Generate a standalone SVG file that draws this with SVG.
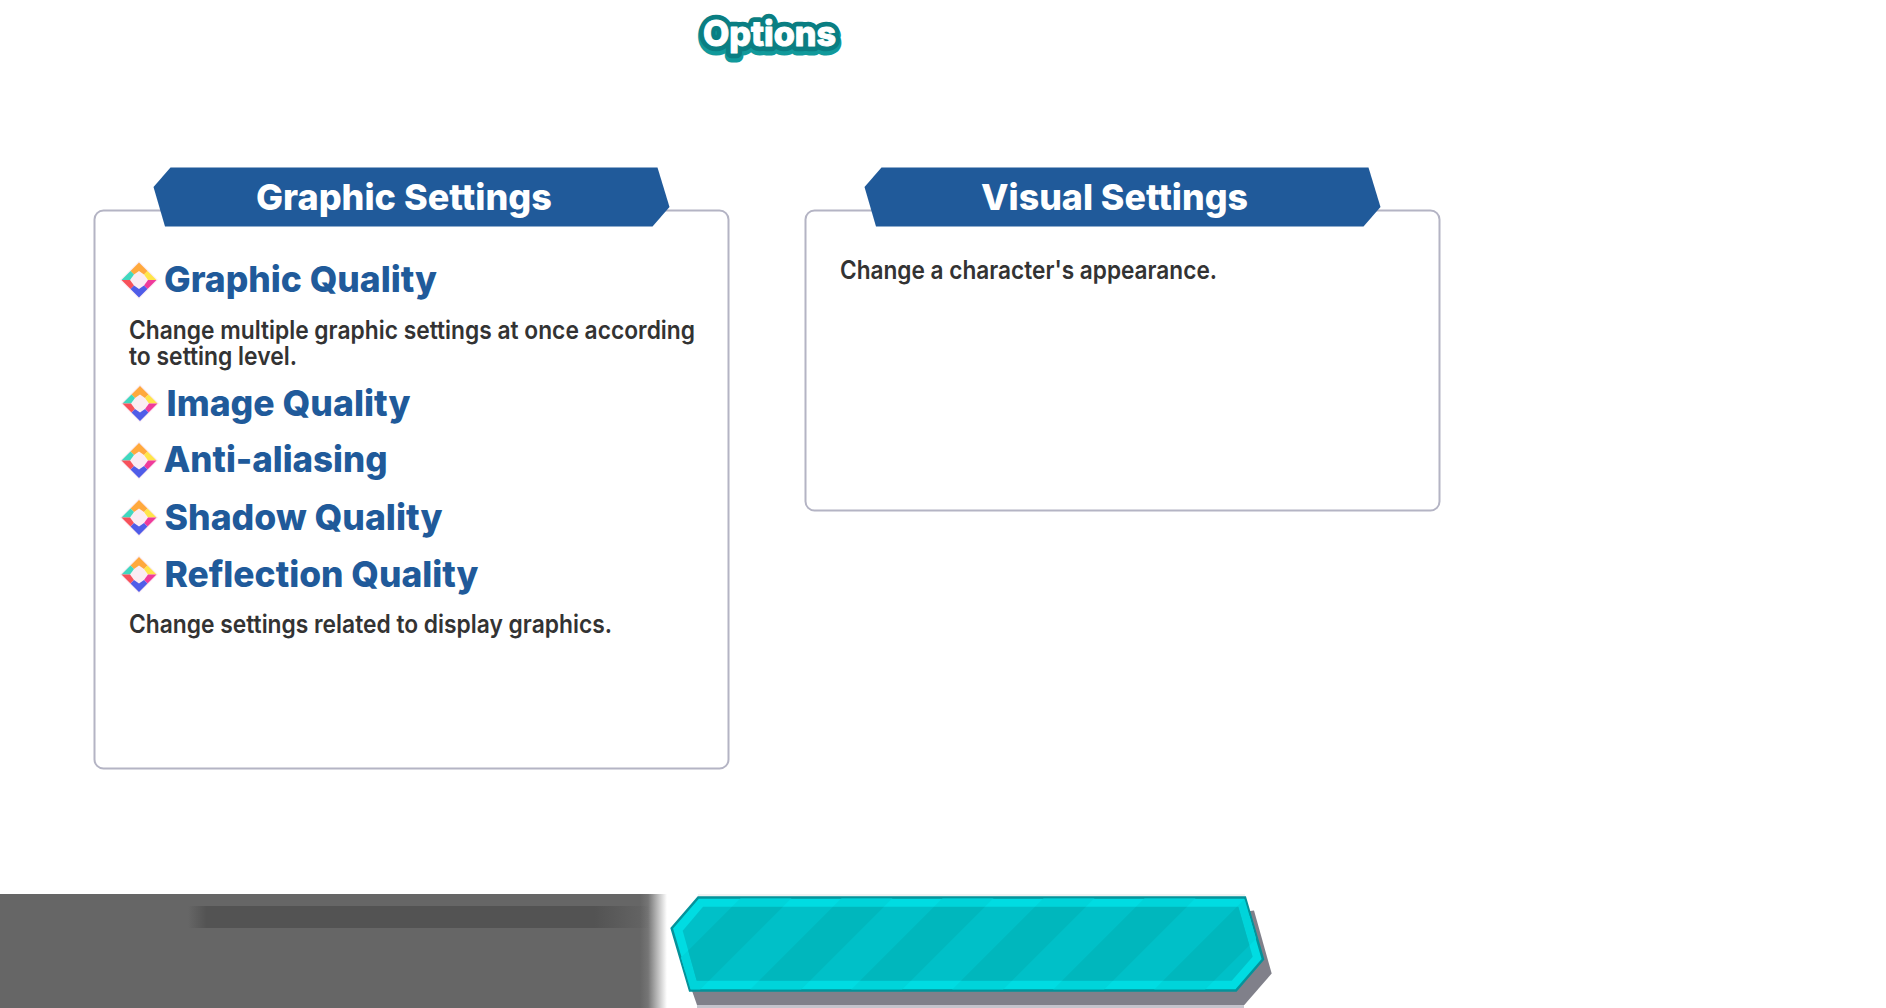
<svg xmlns="http://www.w3.org/2000/svg" width="1886" height="1008" viewBox="0 0 1886 1008">
<style>
text{font-family:Inter,"Noto Sans","Liberation Sans",sans-serif}
.panel{fill:#fff;stroke:#b4b4c4;stroke-width:2}
.banner{fill:#205a9a}
.bt{fill:#fff;font-size:36px;font-weight:800}
.h{fill:#205a9a;font-size:36px;font-weight:800}
.b{fill:#333;font-size:25px;font-weight:600}
.ot{font-size:35px;font-weight:800;text-anchor:middle;stroke-linejoin:round}
</style>
<defs>
<linearGradient id="fade" x1="0" x2="1" y1="0" y2="0"><stop offset="0" stop-color="#666"/><stop offset="0.3" stop-color="#666" stop-opacity="0.9"/><stop offset="1" stop-color="#666" stop-opacity="0"/></linearGradient>
<linearGradient id="band" x1="0" x2="1" y1="0" y2="0"><stop offset="0" stop-color="#535353" stop-opacity="0"/><stop offset="0.04" stop-color="#535353"/><stop offset="0.88" stop-color="#535353"/><stop offset="1" stop-color="#535353" stop-opacity="0"/></linearGradient>
<clipPath id="innerclip"><polygon points="703,906.700 1238.300,906.700 1252.700,956.700 1231.700,980.700 696.700,980.700 682.700,930.700"/></clipPath>
<clipPath id="outerclip"><polygon points="698.500,898.500 1244.500,898.500 1262,959.500 1235.500,989.500 690.500,989.500 672.500,928.500"/></clipPath>
<filter id="soft" x="-20%" y="-20%" width="140%" height="140%"><feGaussianBlur stdDeviation="0.6"/></filter>
<polygon id="stripe" points="732,906.700 783,906.700 709,980.700 658,980.700"/>
<g id="dia" filter="url(#soft)">
<polygon points="0,-19 19,0 0,19 -19,0" fill="#f6d0e0" opacity="0.4"/>
<polygon points="0,-17.500 8.500,-9 5,-5.500 0,-9 -5,-5.500 -8.500,-9" fill="#ffa93e"/>
<polygon points="8.500,-9 17.500,0 9,0 5,-5.500" fill="#ffe548"/>
<polygon points="-8.500,-9 -5,-5.500 -9,0 -17.500,0" fill="#3fd8bf"/>
<polygon points="-17.500,0 -9,0 -5,5.500 -8.500,9" fill="#f7515a"/>
<polygon points="17.500,0 9,0 5,5.500 8.500,9" fill="#ef3a9b"/>
<polygon points="0,17.500 8.500,9 5,5.500 0,9 -5,5.500 -8.500,9" fill="#4f5ce8"/>
</g>
</defs>
<rect width="1886" height="1008" fill="#fff"/>

<g id="title">
<text class="ot" x="769.500" y="48.500" fill="#11999b" stroke="#11999b" stroke-width="13" textLength="133" lengthAdjust="spacingAndGlyphs">Options</text>
<text class="ot" x="769.500" y="45.500" fill="#0a7e82" stroke="#0a7e82" stroke-width="10.500" textLength="133" lengthAdjust="spacingAndGlyphs">Options</text>
<text class="ot" x="769.500" y="45.500" fill="#fff" stroke="#fff" stroke-width="1" textLength="133" lengthAdjust="spacingAndGlyphs">Options</text>
</g>

<g id="panel-graphic">
<rect class="panel" x="94.500" y="210.500" width="634" height="558" rx="9"/>
<polygon class="banner" points="170.500,167.500 657.500,167.500 669.500,207 652.500,226.500 165,226.500 153.500,187"/>
<text class="bt" x="256" y="210" textLength="296" lengthAdjust="spacingAndGlyphs">Graphic Settings</text>
</g>

<g id="item-graphic-quality">
<use href="#dia" x="139" y="280"/>
<text class="h" x="164" y="292" textLength="273" lengthAdjust="spacingAndGlyphs">Graphic Quality</text>
<text class="b" x="129" y="339" textLength="566" lengthAdjust="spacingAndGlyphs">Change multiple graphic settings at once according</text>
<text class="b" x="129" y="365" textLength="168" lengthAdjust="spacingAndGlyphs">to setting level.</text>
</g>
<g id="item-image-quality">
<use href="#dia" x="140" y="403.500"/>
<text class="h" x="166.500" y="416" textLength="244" lengthAdjust="spacingAndGlyphs">Image Quality</text>
</g>
<g id="item-anti-aliasing">
<use href="#dia" x="139" y="460.500"/>
<text class="h" x="163.500" y="472" textLength="224" lengthAdjust="spacingAndGlyphs">Anti-aliasing</text>
</g>
<g id="item-shadow-quality">
<use href="#dia" x="139" y="517.500"/>
<text class="h" x="164.500" y="530" textLength="278" lengthAdjust="spacingAndGlyphs">Shadow Quality</text>
</g>
<g id="item-reflection-quality">
<use href="#dia" x="139" y="574.500"/>
<text class="h" x="164.500" y="587" textLength="314" lengthAdjust="spacingAndGlyphs">Reflection Quality</text>
<text class="b" x="129" y="633" textLength="483" lengthAdjust="spacingAndGlyphs">Change settings related to display graphics.</text>
</g>

<g id="panel-visual">
<rect class="panel" x="805.500" y="210.500" width="634" height="300" rx="9"/>
<polygon class="banner" points="881.500,167.500 1368.500,167.500 1380.500,207 1363.500,226.500 876,226.500 864.500,187"/>
<text class="bt" x="981" y="210" textLength="267" lengthAdjust="spacingAndGlyphs">Visual Settings</text>
<text class="b" x="840" y="279" textLength="377" lengthAdjust="spacingAndGlyphs">Change a character's appearance.</text>
</g>

<g id="footer-bar">
<rect x="0" y="894" width="640" height="114" fill="#666"/>
<rect x="640" y="894" width="27" height="114" fill="url(#fade)"/>
<rect x="188" y="906" width="462" height="22" fill="url(#band)"/>
</g>

<g id="button">
<rect x="698" y="894" width="547" height="3" fill="#f0f2f2"/>
<polygon points="1254,910.500 1271.700,973.500 1244.300,1005 697,1005 690,985" fill="#80808a"/>
<rect x="697" y="1005" width="547" height="3" fill="#c4c4cc"/>
<polygon points="698.300,897.500 1245,897.500 1263,959.300 1236,990.500 690,990.500 671.700,928.300" fill="#00dce2" stroke="#05929a" stroke-width="2.500"/>
<g clip-path="url(#outerclip)" fill="#00d4da">
<use href="#stripe" transform="translate(9 -9)"/>
<use href="#stripe" transform="translate(110 -9)"/>
<use href="#stripe" transform="translate(211 -9)"/>
<use href="#stripe" transform="translate(312 -9)"/>
<use href="#stripe" transform="translate(413 -9)"/>
<use href="#stripe" transform="translate(514 -9)"/>
<use href="#stripe" transform="translate(-9 9)"/>
<use href="#stripe" transform="translate(92 9)"/>
<use href="#stripe" transform="translate(193 9)"/>
<use href="#stripe" transform="translate(294 9)"/>
<use href="#stripe" transform="translate(395 9)"/>
<use href="#stripe" transform="translate(496 9)"/>
</g>
<polygon points="703,906.700 1238.300,906.700 1252.700,956.700 1231.700,980.700 696.700,980.700 682.700,930.700" fill="#00c0c8"/>
<g clip-path="url(#innerclip)" fill="#00b7bd">
<use href="#stripe"/>
<use href="#stripe" x="101"/>
<use href="#stripe" x="202"/>
<use href="#stripe" x="303"/>
<use href="#stripe" x="404"/>
<use href="#stripe" x="505"/>
</g>
</g>
</svg>
